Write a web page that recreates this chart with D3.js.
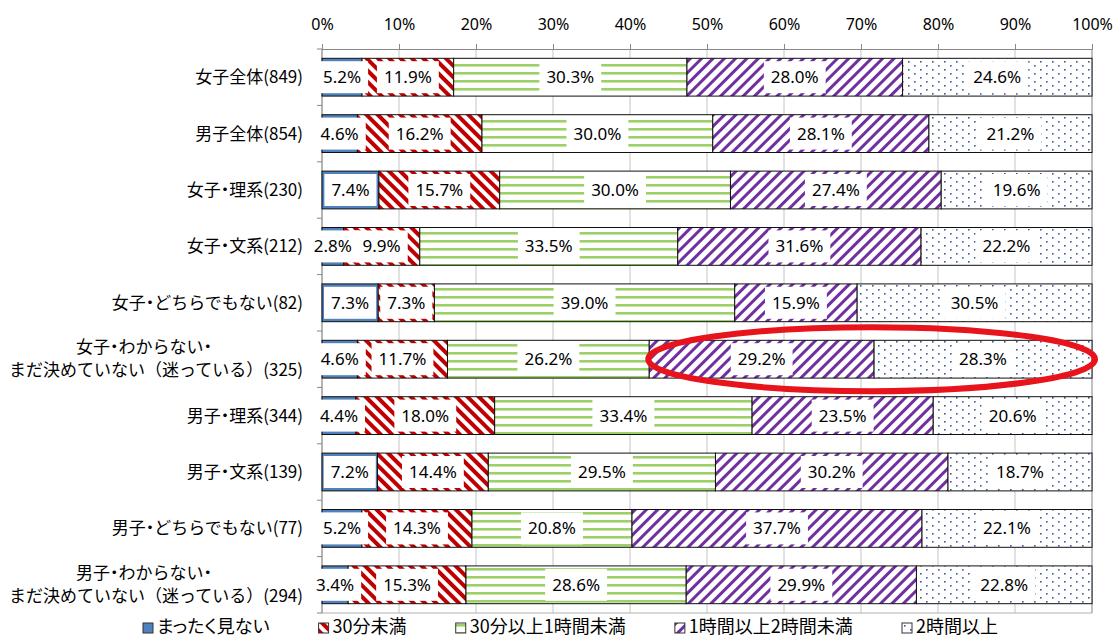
<!DOCTYPE html>
<html lang="ja">
<head>
<meta charset="utf-8">
<script src="https://cdn.jsdelivr.net/npm/d3@7"></script>
<style>
  html, body { margin: 0; padding: 0; background: #fff; }
  svg { display: block; }
  .cat { font-family: "Noto Sans CJK JP", sans-serif; font-size: 17px; fill: #000; }
  .cat .dot { font-feature-settings: "palt"; }
  .val { font-family: "Noto Sans", sans-serif; font-size: 17px; fill: #000; }
  .tick text { font-family: "Noto Sans", sans-serif; font-size: 16px; fill: #000; }
  .leg { font-family: "Noto Sans CJK JP", sans-serif; font-size: 18px; fill: #000; font-feature-settings: "palt"; }
</style>
</head>
<body>
<svg id="chart" width="1115" height="639"></svg>
<script>
// 平日のテレビ視聴時間（属性別、100%積み上げ）
const categories = [
  "女子全体(849)",
  "男子全体(854)",
  "女子・理系(230)",
  "女子・文系(212)",
  "女子・どちらでもない(82)",
  "女子・わからない・\nまだ決めていない（迷っている）(325)",
  "男子・理系(344)",
  "男子・文系(139)",
  "男子・どちらでもない(77)",
  "男子・わからない・\nまだ決めていない（迷っている）(294)"
];
const seriesNames = ["まったく見ない", "30分未満", "30分以上1時間未満", "1時間以上2時間未満", "2時間以上"];
const neverWatch   = [5.2, 4.6, 7.4, 2.8, 7.3, 4.6, 4.4, 7.2, 5.2, 3.4];
const under30min   = [11.9, 16.2, 15.7, 9.9, 7.3, 11.7, 18.0, 14.4, 14.3, 15.3];
const min30to1h    = [30.3, 30.0, 30.0, 33.5, 39.0, 26.2, 33.4, 29.5, 20.8, 28.6];
const h1to2h       = [28.0, 28.1, 27.4, 31.6, 15.9, 29.2, 23.5, 30.2, 37.7, 29.9];
const over2h       = [24.6, 21.2, 19.6, 22.2, 30.5, 28.3, 20.6, 18.7, 22.1, 22.8];
const axisTicks    = [0, 0.1, 0.2, 0.3, 0.4, 0.5, 0.6, 0.7, 0.8, 0.9, 1.0];
const highlighted  = "女子・わからない・\nまだ決めていない（迷っている）(325)";

const seriesValues = [neverWatch, under30min, min30to1h, h1to2h, over2h];
const rows = categories.map((c, i) => {
  const r = { category: c };
  seriesNames.forEach((s, k) => { r[s] = seriesValues[k][i]; });
  return r;
});

const svg = d3.select("#chart");
const plot = { left: 322, right: 1092, top: 49, bottom: 613 };

const x = d3.scaleLinear().domain([0, 1]).range([plot.left, plot.right]);
const y = d3.scaleBand().domain(categories).range([plot.top, plot.bottom])
  .paddingInner(0.33).paddingOuter(0.165);

// fill patterns
const defs = svg.append("defs");
function stripes(id, color, angle, period, width) {
  const p = defs.append("pattern").attr("id", id).attr("patternUnits", "userSpaceOnUse")
    .attr("width", period).attr("height", period)
    .attr("patternTransform", `rotate(${angle})`);
  p.append("rect").attr("width", period).attr("height", period).attr("fill", "#fff");
  p.append("rect").attr("x", 0).attr("y", 0).attr("width", width).attr("height", period).attr("fill", color);
}
stripes("pRed", "#c00000", -45, 8, 4);
stripes("pPurple", "#7030a0", 45, 8, 3);
{
  const p = defs.append("pattern").attr("id", "pGreen").attr("patternUnits", "userSpaceOnUse")
    .attr("width", 8).attr("height", 8);
  p.append("rect").attr("width", 8).attr("height", 8).attr("fill", "#fff");
  p.append("rect").attr("y", 0).attr("width", 8).attr("height", 2.6).attr("fill", "#9bd167");
}
{
  const p = defs.append("pattern").attr("id", "pDots").attr("patternUnits", "userSpaceOnUse")
    .attr("width", 12).attr("height", 8);
  p.append("rect").attr("width", 12).attr("height", 8).attr("fill", "#fff");
  p.append("rect").attr("x", 2).attr("y", 1).attr("width", 1.6).attr("height", 1.6).attr("fill", "#3a5a9c");
  p.append("rect").attr("x", 8).attr("y", 5).attr("width", 1.6).attr("height", 1.6).attr("fill", "#3a5a9c");
}
const fills = {
  "まったく見ない": "#4f81bd",
  "30分未満": "url(#pRed)",
  "30分以上1時間未満": "url(#pGreen)",
  "1時間以上2時間未満": "url(#pPurple)",
  "2時間以上": "url(#pDots)"
};

// gridlines
svg.append("g").selectAll("line").data(axisTicks).join("line")
  .attr("x1", d => x(d)).attr("x2", d => x(d))
  .attr("y1", plot.top).attr("y2", plot.bottom)
  .attr("stroke", "#c4c4c4").attr("stroke-width", 1);
svg.append("line").attr("x1", plot.left).attr("x2", plot.right)
  .attr("y1", plot.bottom).attr("y2", plot.bottom).attr("stroke", "#b0b0b0");
svg.append("line").attr("x1", plot.right).attr("x2", plot.right)
  .attr("y1", plot.top).attr("y2", plot.bottom).attr("stroke", "#a0a0a0");

// top axis
const xAxis = d3.axisTop(x).tickValues(axisTicks).tickFormat(d3.format(".0%"))
  .tickSize(5).tickPadding(14);
const gx = svg.append("g").attr("transform", `translate(0,${plot.top})`).call(xAxis);
gx.select(".domain").attr("stroke", "#888");
gx.selectAll(".tick line").attr("stroke", "#888");

// left axis with ticks between categories
svg.append("line").attr("x1", plot.left).attr("x2", plot.left)
  .attr("y1", plot.top).attr("y2", plot.bottom).attr("stroke", "#888");
const bounds = d3.range(categories.length + 1).map(i => plot.top + i * y.step());
svg.append("g").selectAll("line").data(bounds).join("line")
  .attr("x1", plot.left - 5).attr("x2", plot.left)
  .attr("y1", d => d).attr("y2", d => d).attr("stroke", "#888");

// stacked bars
const stack = d3.stack().keys(seriesNames).offset(d3.stackOffsetExpand);
const layers = stack(rows);

const gBars = svg.append("g");
layers.forEach(layer => {
  gBars.append("g").selectAll("rect").data(layer).join("rect")
    .attr("x", d => x(d[0]))
    .attr("y", d => y(d.data.category))
    .attr("width", d => x(d[1]) - x(d[0]))
    .attr("height", y.bandwidth())
    .attr("fill", fills[layer.key])
    .attr("stroke", "#111").attr("stroke-width", 1);
});

// value labels on white boxes
const gLab = svg.append("g");
layers.forEach(layer => {
  layer.forEach(d => {
    const cx = (x(d[0]) + x(d[1])) / 2;
    const cy = y(d.data.category) + y.bandwidth() / 2;
    const g = gLab.append("g");
    const t = g.append("text").attr("class", "val")
      .attr("x", cx).attr("y", cy).attr("dy", "0.35em")
      .attr("text-anchor", "middle")
      .text(d.data[layer.key].toFixed(1) + "%");
    const w = t.node().getComputedTextLength();
    g.insert("rect", "text")
      .attr("x", cx - w / 2 - 7).attr("y", cy - 16)
      .attr("width", w + 14).attr("height", 32)
      .attr("fill", "#fff");
  });
});

// category labels: the middle dot is set proportionally
function writeLabel(sel, str) {
  str.split(/(・)/).filter(s => s.length).forEach(part => {
    const ts = sel.append("tspan").text(part);
    if (part === "・") ts.attr("class", "dot");
  });
  return sel;
}
const gCat = svg.append("g");
categories.forEach(c => {
  const cy = y(c) + y.bandwidth() / 2;
  const lines = c.split("\n");
  if (lines.length === 1) {
    writeLabel(gCat.append("text").attr("class", "cat")
      .attr("x", 303).attr("y", cy).attr("dy", "0.35em")
      .attr("text-anchor", "end"), c);
  } else {
    const second = writeLabel(gCat.append("text").attr("class", "cat")
      .attr("x", 303).attr("y", cy + 11).attr("dy", "0.35em")
      .attr("text-anchor", "end"), lines[1]);
    const w2 = second.node().getComputedTextLength();
    writeLabel(gCat.append("text").attr("class", "cat")
      .attr("x", 303 - w2 / 2 - 12).attr("y", cy - 12).attr("dy", "0.35em")
      .attr("text-anchor", "middle"), lines[0]);
  }
});

// highlight ring around the longest-viewing segments of one group
{
  const row = layers[0].findIndex(d => d.data.category === highlighted);
  const x0 = x(layers[3][row][0]);
  const x1 = x(layers[4][row][1]);
  const cy = y(highlighted) + y.bandwidth() / 2;
  svg.append("ellipse")
    .attr("cx", (x0 + x1) / 2 + 1).attr("cy", cy)
    .attr("rx", (x1 - x0) / 2 + 2).attr("ry", 32)
    .attr("fill", "none").attr("stroke", "#e8141c").attr("stroke-width", 6);
}

// legend, spread across the span under the chart
const gLeg = svg.append("g");
const legSpan = [143, 998];
const legItems = seriesNames.map(s => {
  const g = gLeg.append("g");
  g.append("rect").attr("x", 0).attr("y", 623).attr("width", 10).attr("height", 10)
    .attr("fill", fills[s]).attr("stroke", "#333").attr("stroke-width", 1);
  const t = g.append("text").attr("class", "leg").attr("x", 14).attr("y", 633).text(s);
  return { g, w: 14 + t.node().getComputedTextLength() };
});
const legGap = (legSpan[1] - legSpan[0] - d3.sum(legItems, d => d.w)) / (legItems.length - 1);
let lx = legSpan[0];
legItems.forEach(it => {
  it.g.attr("transform", `translate(${lx},0)`);
  lx += it.w + legGap;
});
</script>
</body>
</html>
